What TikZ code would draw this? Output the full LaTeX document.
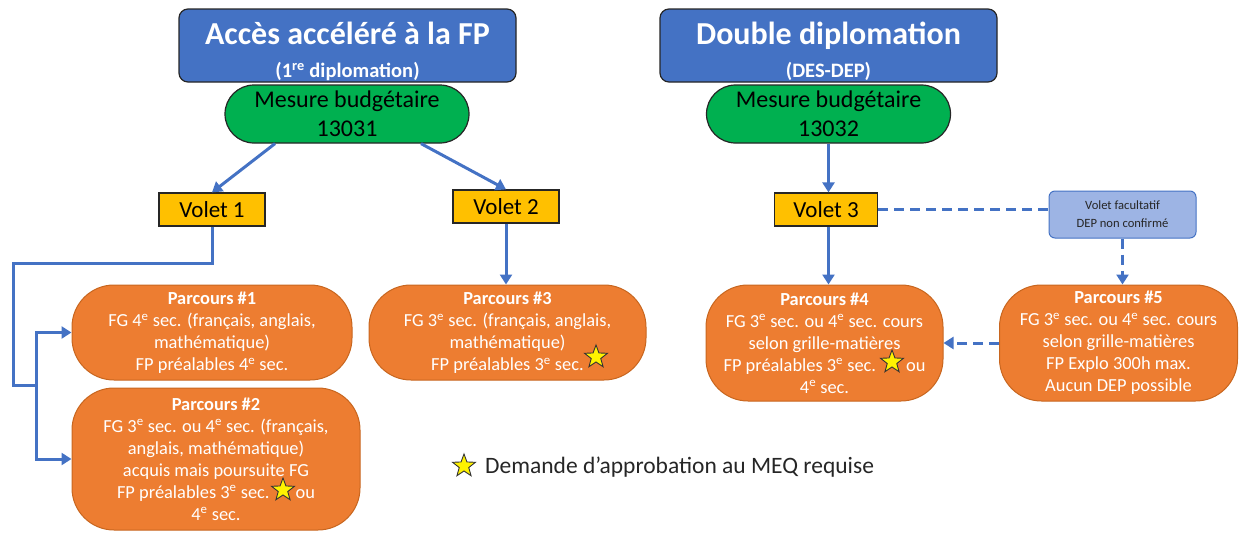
\documentclass[tikz,border=0pt]{standalone}
\usepackage{fontspec}
\setmainfont{Carlito}
\usetikzlibrary{shapes.geometric,arrows.meta,calc}
\definecolor{hdrblue}{HTML}{4472C4}
\definecolor{budgetgreen}{HTML}{00B050}
\definecolor{voletyellow}{HTML}{FFC000}
\definecolor{pathorange}{HTML}{ED7D31}
\definecolor{pathedge}{HTML}{C8661F}
\definecolor{optblue}{HTML}{9DB4E4}
\definecolor{linkblue}{HTML}{4472C4}
\newcommand{\ieme}{\textsuperscript{e}}
\newcommand{\subtitlefont}{\bfseries\fontsize{20.5}{24}\selectfont}
% taller first line pushes the two-line header text a little lower
\newcommand{\titlestrut}{\rule{0pt}{35pt}}
\tikzset{
  header/.style={draw=black!85, line width=1.2pt, fill=hdrblue, rounded corners=9pt,
    minimum width=337pt, minimum height=73pt, text=white, align=center, inner sep=0pt,
    font=\bfseries\fontsize{32}{33}\selectfont},
  budget/.style={draw=black!85, line width=1.2pt, fill=budgetgreen, rounded corners=29pt,
    minimum width=244pt, minimum height=58pt, align=center, inner sep=0pt,
    font=\fontsize{24}{29}\selectfont},
  voletbox/.style={draw=black!85, line width=1.2pt, fill=voletyellow,
    minimum width=106pt, minimum height=33pt, inner sep=0pt,
    font=\fontsize{23}{26}\selectfont},
  optbox/.style={draw=linkblue, line width=1pt, fill=optblue, rounded corners=6pt,
    minimum width=147pt, minimum height=47pt, align=center, inner sep=0pt,
    text=black!85, font=\fontsize{12.6}{18}\selectfont},
  pathbox/.style={draw=pathedge, line width=1pt, fill=pathorange, rounded corners=42pt,
    text=white, align=center, inner sep=0pt,
    font=\fontsize{18.4}{22}\selectfont},
  goldstar/.style={star, star points=5, star point ratio=2.4, draw=black!80,
    line width=0.9pt, fill=yellow, minimum size=24pt, inner sep=0pt},
  link/.style={draw=linkblue, line width=3pt},
  arr/.style={link, -{Triangle[length=10pt,width=12pt]}},
  dashlink/.style={link, dash pattern=on 10pt off 6pt},
}
\begin{document}
\begin{tikzpicture}[x=1pt,y=-1pt]
\useasboundingbox (0,0) rectangle (1239,533);

% headers
\node[header] (H1) at (347.5,45.5)
  {\titlestrut Accès accéléré à la FP\\{\subtitlefont (1\textsuperscript{re} diplomation)}};
\node[header] (H2) at (828.5,45.5)
  {\titlestrut Double diplomation\\{\subtitlefont (DES-DEP)}};

% budget measures
\node[budget] (G1) at (347,114) {Mesure budgétaire\\13031};
\node[budget] (G2) at (828.5,114) {Mesure budgétaire\\13032};

% volets
\node[voletbox] (V1) at (212,209.5) {Volet 1};
\node[voletbox] (V2) at (506,206.5) {Volet 2};
\node[voletbox, minimum width=103pt] (V3) at (826,209.5) {Volet 3};
\node[optbox] (F) at (1122.5,214.5) {Volet facultatif\\DEP non confirmé};

% parcours
\node[pathbox, minimum width=280pt, minimum height=95pt] (P1) at (212,332.5)
  {\textbf{Parcours \#1}\\FG 4\ieme{} sec. (français, anglais,\\mathématique)\\FP préalables 4\ieme{} sec.};
\node[pathbox, minimum width=288pt, minimum height=142pt] (P2) at (216,459)
  {\textbf{Parcours \#2}\\FG 3\ieme{} sec. ou 4\ieme{} sec. (français,\\anglais, mathématique)\\acquis mais poursuite FG\\FP préalables 3\ieme{} sec.\hspace{26pt}ou\\4\ieme{} sec.};
\node[pathbox, minimum width=277pt, minimum height=95pt] (P3) at (507.5,332.5)
  {\textbf{Parcours \#3}\\FG 3\ieme{} sec. (français, anglais,\\mathématique)\\FP préalables 3\ieme{} sec.};
\node[pathbox, minimum width=237pt, minimum height=116pt] (P4) at (824.5,343)
  {\textbf{Parcours \#4}\\FG 3\ieme{} sec. ou 4\ieme{} sec. cours\\selon grille-matières\\FP préalables 3\ieme{} sec.\hspace{30pt}ou\\4\ieme{} sec.};
\node[pathbox, minimum width=238pt, minimum height=116pt] (P5) at (1118.5,343)
  {\textbf{Parcours \#5}\\FG 3\ieme{} sec. ou 4\ieme{} sec. cours\\selon grille-matières\\FP Explo 300h max.\\Aucun DEP possible};

% approval stars
\node[goldstar] (S2) at (283,490) {};
\node[goldstar] (S3) at (596,357) {};
\node[goldstar] (S4) at (892,362) {};

% legend
\node[goldstar] (SL) at (464,466) {};
\node[anchor=west, font=\fontsize{23.5}{26}\selectfont, text=black!85, inner sep=0pt]
  (L) at (485,467) {Demande d’approbation au MEQ requise};

% connectors
\draw[arr] ($(G1.south)+(-72,0)$) -- (V1.north);
\draw[arr] ($(G1.south)+(74,0)$) -- (V2.north);
\draw[arr] (G2.south) -- (G2.south |- V3.north);
\draw[arr] (V2.south) -- (V2.south |- P3.north);
\draw[arr] (V3.south -| G2.south) -- (G2.south |- P4.north);

\coordinate (j1) at (13,263);
\coordinate (j2) at (13,385);
\coordinate (j3) at (36,385);
\draw[link] (V1.south) |- (j1) -- (j2) -- (j3);
\draw[arr] (j3) |- (P1.west);
\draw[arr] (j3) |- (P2.west);

\draw[dashlink] (V3.east) -- (V3.east -| F.west);
\draw[dashlink, -{Triangle[length=10pt,width=12pt]}] (F.south) -- (F.south |- P5.north);
\draw[dashlink, -{Triangle[length=10pt,width=12pt]}] (P5.west) -- (P4.east);
\end{tikzpicture}
\end{document}
